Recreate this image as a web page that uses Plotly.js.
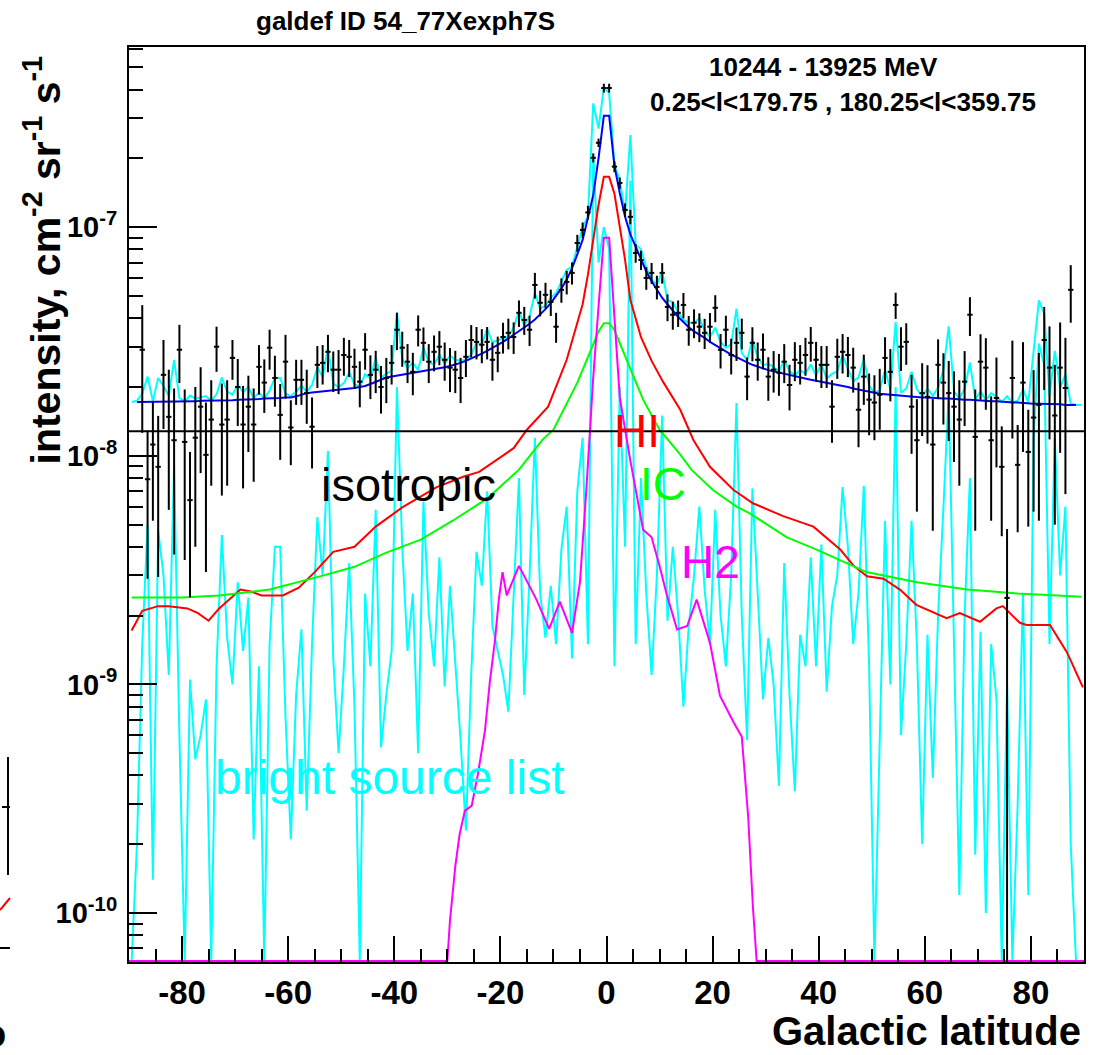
<!DOCTYPE html>
<html>
<head>
<meta charset="utf-8">
<script src="https://cdn.plot.ly/plotly-3.0.1.min.js"></script>
<style>
  html, body { margin: 0; padding: 0; background: #ffffff; }
  #chart { width: 1098px; height: 1055px; }
</style>
</head>
<body>
<div id="chart"></div>
<script>
// Latitude profile, 10244 - 13925 MeV, 1 degree bins from -90 to 90.
const binCount = 180;

// Measured intensity per bin (null where no measurement is shown)
const dataIntensity = [
  null, null, 2.91e-8, 7.9e-9, 1.12e-8, 8.95e-9, 2.26e-8, 1.48e-8, 1.17e-8, 2.91e-8,
  1.15e-8, 6.4e-9, 1.2e-8, 1.64e-8, 1.01e-8, 1.44e-8, 3.0e-8, 1.37e-8, 1.44e-8, 2.68e-8,
  2.0e-8, 1.37e-8, 1.64e-8, 1.37e-8, 2.45e-8, 2.09e-8, 2.97e-8, 2.19e-8, 1.51e-8, 2.58e-8,
  1.33e-8, 2.15e-8, 2.15e-8, 1.88e-8, 1.34e-8, 2.5e-8, 2.55e-8, 2.85e-8, 2.38e-8, 2.38e-8,
  2.76e-8, 2.71e-8, 2.45e-8, 2.11e-8, 2.91e-8, 2.26e-8, 2.38e-8, 2.0e-8, 2.19e-8, 2.55e-8,
  3.56e-8, 2.97e-8, 2.58e-8, 2.33e-8, 3.56e-8, 3.12e-8, 2.58e-8, 2.85e-8, 3.0e-8, 2.63e-8,
  2.43e-8, 2.38e-8, 2.19e-8, 2.71e-8, 3.21e-8, 3.15e-8, 3.06e-8, 3.15e-8, 2.63e-8, 2.82e-8,
  3.31e-8, 3.45e-8, 3.31e-8, 4.22e-8, 3.93e-8, 3.56e-8, 5.59e-8, 4.67e-8, 5.06e-8, 4.71e-8,
  3.67e-8, 5.32e-8, 5.76e-8, 6.31e-8, 8.53e-8, 9.73e-8, 1.16e-7, 2.01e-7, 2.34e-7, 4.06e-7,
  4.06e-7, 1.84e-7, 1.56e-7, 1.19e-7, 1.11e-7, 7.71e-8, 7.19e-8, 6.0e-8, 6.31e-8, 5.48e-8,
  6.31e-8, 4.48e-8, 4.14e-8, 4.22e-8, 4.57e-8, 3.56e-8, 3.82e-8, 3.67e-8, 3.45e-8, 3.67e-8,
  4.44e-8, 2.91e-8, 3.56e-8, 2.76e-8, 3.12e-8, 3.45e-8, 2.22e-8, 3.12e-8, 2.63e-8, 2.91e-8,
  2.22e-8, 2.38e-8, 2.31e-8, 2.58e-8, 2.04e-8, 2.63e-8, 2.55e-8, 2.76e-8, 3.12e-8, 2.63e-8,
  2.5e-8, 2.5e-8, 1.64e-8, 2.71e-8, 2.85e-8, 2.76e-8, 2.43e-8, 1.59e-8, 2.22e-8, 1.76e-8,
  1.71e-8, 1.85e-8, 2.68e-8, 2.33e-8, 4.57e-8, 3.0e-8, 3.15e-8, 1.64e-8, 1.17e-8, 1.88e-8,
  1.81e-8, 1.12e-8, 2.5e-8, 2.09e-8, 1.88e-8, 1.64e-8, 1.44e-8, 2.11e-8, 4.14e-8, 1.21e-8,
  2.58e-8, 2.43e-8, 1.17e-8, 1.79e-8, 8.95e-9, 2.39e-9, 2.19e-8, 9.13e-9, 2.09e-8, 1.04e-8,
  1.47e-8, 1.67e-8, 3.21e-8, 2.43e-8, 1.5e-8, 2.43e-8, 1.98e-8, 5.32e-8, null, null
];

// Statistical error on each measured bin
const dataError = [
  0, 0, 1.65e-8, 5e-9, 6e-9, 6e-9, 9.5e-9, 9e-9, 8e-9, 8.3e-9,
  8e-9, 4e-9, 8e-9, 8e-9, 7e-9, 7e-9, 6.7e-9, 7e-9, 7e-9, 5.3e-9,
  6.5e-9, 6.5e-9, 6e-9, 6e-9, 6e-9, 5.5e-9, 5.9e-9, 5.5e-9, 5.5e-9, 8e-9,
  4.2e-9, 4.8e-9, 4.8e-9, 5.0e-9, 4.6e-9, 5.2e-9, 5.0e-9, 5.3e-9, 4.8e-9, 5.2e-9,
  5.2e-9, 5.0e-9, 4.9e-9, 4.8e-9, 5.3e-9, 4.9e-9, 5.0e-9, 4.7e-9, 4.9e-9, 5.0e-9,
  6.6e-9, 5.2e-9, 5.0e-9, 4.9e-9, 5.5e-9, 5.2e-9, 5.0e-9, 5.1e-9, 5.1e-9, 5.0e-9,
  5.3e-9, 5.0e-9, 4.9e-9, 5.0e-9, 5.2e-9, 5.1e-9, 5.2e-9, 5.1e-9, 5.0e-9, 5.0e-9,
  5.1e-9, 5.3e-9, 5.2e-9, 5.6e-9, 5.5e-9, 5.4e-9, 7.2e-9, 6.0e-9, 6.5e-9, 6.2e-9,
  5.5e-9, 6.5e-9, 6.8e-9, 7.0e-9, 7.3e-9, 7.5e-9, 8.0e-9, 9.0e-9, 1.0e-8, 1.8e-8,
  1.8e-8, 1.0e-8, 9e-9, 8e-9, 8e-9, 7.2e-9, 7.0e-9, 6.8e-9, 6.6e-9, 6.5e-9,
  6.5e-9, 6.0e-9, 5.8e-9, 5.6e-9, 5.8e-9, 5.3e-9, 5.5e-9, 5.3e-9, 5.2e-9, 5.4e-9,
  6.0e-9, 5.0e-9, 5.4e-9, 4.9e-9, 5.2e-9, 5.3e-9, 4.7e-9, 5.3e-9, 5.0e-9, 5.2e-9,
  4.8e-9, 4.9e-9, 4.8e-9, 5.0e-9, 4.6e-9, 5.1e-9, 5.0e-9, 5.2e-9, 5.4e-9, 5.2e-9,
  5.2e-9, 5.2e-9, 5.0e-9, 5.4e-9, 5.6e-9, 5.5e-9, 5.4e-9, 5.0e-9, 5.5e-9, 5.3e-9,
  5.4e-9, 5.5e-9, 6.2e-9, 6.0e-9, 6.0e-9, 6.5e-9, 6.5e-9, 6.2e-9, 6.0e-9, 6.6e-9,
  6.8e-9, 6.5e-9, 7.3e-9, 7.2e-9, 7.2e-9, 7.0e-9, 7.0e-9, 7.6e-9, 8.0e-9, 7.4e-9,
  8.2e-9, 8.4e-9, 6.5e-9, 9.0e-9, 4.5e-9, 2.4e-9, 1.0e-8, 4.5e-9, 1.05e-8, 5.5e-9,
  9e-9, 1.15e-8, 1.27e-8, 1.25e-8, 1.0e-8, 1.4e-8, 1.3e-8, 1.5e-8, 0, 0
];

// Total diffuse model (HI + IC + H2 + isotropic) per bin
const totalModel = [
  1.72e-8, 1.72e-8, 1.72e-8, 1.72e-8, 1.72e-8, 1.72e-8, 1.72e-8, 1.72e-8, 1.72e-8, 1.73e-8,
  1.73e-8, 1.73e-8, 1.73e-8, 1.74e-8, 1.74e-8, 1.74e-8, 1.74e-8, 1.75e-8, 1.75e-8, 1.75e-8,
  1.76e-8, 1.76e-8, 1.76e-8, 1.77e-8, 1.77e-8, 1.78e-8, 1.78e-8, 1.79e-8, 1.79e-8, 1.8e-8,
  1.8e-8, 1.82e-8, 1.85e-8, 1.88e-8, 1.89e-8, 1.9e-8, 1.91e-8, 1.93e-8, 1.94e-8, 1.95e-8,
  1.96e-8, 1.97e-8, 1.98e-8, 2.0e-8, 2.02e-8, 2.06e-8, 2.1e-8, 2.15e-8, 2.2e-8, 2.22e-8,
  2.24e-8, 2.26e-8, 2.28e-8, 2.3e-8, 2.32e-8, 2.34e-8, 2.36e-8, 2.38e-8, 2.41e-8, 2.44e-8,
  2.47e-8, 2.5e-8, 2.55e-8, 2.6e-8, 2.66e-8, 2.73e-8, 2.8e-8, 2.88e-8, 2.96e-8, 3.05e-8,
  3.15e-8, 3.26e-8, 3.38e-8, 3.5e-8, 3.63e-8, 3.78e-8, 3.95e-8, 4.15e-8, 4.38e-8, 4.65e-8,
  5.0e-8, 5.4e-8, 5.9e-8, 6.6e-8, 7.6e-8, 8.8e-8, 1.1e-7, 1.38e-7, 2.0e-7, 3.07e-7,
  3.07e-7, 1.85e-7, 1.41e-7, 1.11e-7, 9.3e-8, 8.2e-8, 7.2e-8, 6.4e-8, 5.8e-8, 5.3e-8,
  4.9e-8, 4.6e-8, 4.3e-8, 4.05e-8, 3.85e-8, 3.65e-8, 3.5e-8, 3.4e-8, 3.28e-8, 3.15e-8,
  3.05e-8, 2.95e-8, 2.85e-8, 2.77e-8, 2.7e-8, 2.62e-8, 2.56e-8, 2.5e-8, 2.45e-8, 2.4e-8,
  2.37e-8, 2.34e-8, 2.31e-8, 2.28e-8, 2.25e-8, 2.22e-8, 2.2e-8, 2.17e-8, 2.15e-8, 2.13e-8,
  2.11e-8, 2.09e-8, 2.06e-8, 2.04e-8, 2.02e-8, 2.0e-8, 1.97e-8, 1.95e-8, 1.92e-8, 1.9e-8,
  1.89e-8, 1.87e-8, 1.86e-8, 1.85e-8, 1.84e-8, 1.83e-8, 1.82e-8, 1.81e-8, 1.81e-8, 1.8e-8,
  1.8e-8, 1.79e-8, 1.79e-8, 1.78e-8, 1.78e-8, 1.77e-8, 1.77e-8, 1.76e-8, 1.76e-8, 1.75e-8,
  1.74e-8, 1.74e-8, 1.73e-8, 1.73e-8, 1.72e-8, 1.72e-8, 1.71e-8, 1.71e-8, 1.7e-8, 1.7e-8,
  1.69e-8, 1.69e-8, 1.69e-8, 1.68e-8, 1.68e-8, 1.68e-8, 1.67e-8, 1.67e-8, 1.67e-8, 1.67e-8
];

// Bright source list contribution per bin (0 = no source flux)
const brightSources = [
  0, 2e-10, 1.5e-9, 5e-9, 1.4e-10, 4.7e-9, 3e-9, 1.1e-9, 9e-9, 6e-10,
  0, 1.05e-9, 4.7e-10, 6e-10, 8.6e-10, 0, 1.2e-9, 4.5e-9, 1.6e-9, 1.0e-9,
  2.8e-9, 1.4e-9, 2.4e-9, 2.1e-10, 1.2e-9, 0, 1.5e-9, 4e-9, 4e-9, 7.2e-10,
  2.1e-10, 9e-10, 1.74e-9, 2.8e-10, 1.5e-9, 5.4e-9, 3e-9, 1.05e-8, 1.3e-9, 5e-10,
  1.2e-9, 3.4e-9, 8e-10, 0, 2.5e-9, 1.2e-9, 5.8e-9, 5.3e-10, 9e-10, 1.4e-9,
  2e-8, 4e-9, 1.4e-9, 2.5e-9, 5e-10, 6.3e-9, 2.05e-9, 1.2e-9, 3.6e-9, 9.8e-10,
  2.7e-9, 1.3e-9, 5.7e-10, 2.3e-10, 1.1e-9, 3.8e-9, 2.7e-9, 7e-9, 1.8e-9, 1.4e-9,
  1.1e-9, 7.6e-10, 2.5e-9, 8e-9, 9e-10, 3e-9, 1.2e-8, 2.5e-9, 1.6e-9, 2.7e-9,
  1.5e-9, 3.9e-9, 6e-9, 1.3e-9, 7e-9, 1.2e-8, 1.5e-9, 2.1e-7, 7e-8, 1.0e-7,
  8e-8, 1.2e-9, 2e-8, 4e-9, 1.6e-7, 1.5e-9, 8e-9, 2.5e-9, 1.1e-9, 3e-9,
  1.5e-8, 1.9e-9, 4e-9, 2e-9, 8e-10, 1.8e-9, 3e-9, 6e-9, 2.6e-9, 1.5e-9,
  5.8e-9, 2e-9, 1.2e-9, 3e-9, 1.7e-8, 2e-9, 5.7e-10, 7.2e-9, 2.5e-9, 8.6e-10,
  1.6e-9, 1.0e-9, 3.6e-10, 3.4e-9, 9e-10, 3.4e-10, 1.65e-9, 1.2e-9, 3.6e-9, 1.2e-9,
  4.1e-9, 9.3e-10, 2.2e-9, 3e-9, 7.3e-9, 4e-9, 1.5e-9, 2.5e-9, 7.4e-9, 1.2e-9,
  0, 6e-10, 5.2e-9, 1e-9, 2e-8, 6e-10, 1.5e-9, 5.2e-9, 1.5e-9, 2e-10,
  1.65e-9, 3.9e-10, 2e-9, 5.9e-9, 1.9e-8, 1.5e-9, 1.2e-10, 2e-9, 8e-9, 1.8e-10,
  1.7e-9, 1e-10, 1.5e-9, 8.6e-10, 0, 1.0e-9, 0, 3e-10, 2.5e-9, 1.2e-10,
  1.2e-8, 3.1e-8, 2.5e-8, 1.5e-9, 1.2e-8, 3e-9, 6e-9, 2e-10, 0, 0
];

// HI gas component
const hiLat = [-89.5, -87.5, -84.5, -82.5, -79, -77, -75, -73, -69, -67, -65, -61, -58, -55, -51.5,
  -47.5, -43.5, -38.5, -32, -27, -24, -21.5, -17.5, -15, -11, -7.5, -5, -4.5, -3.5, -2.5, -1.5,
  -0.5, 0.5, 1.5, 2.5, 3.5, 4.5, 5.5, 6.5, 8.5, 10.7, 13.9, 16.4, 19.5, 23.9, 27.6, 33.3, 39,
  44.1, 46.6, 49.1, 52.2, 55.3, 58.4, 61.5, 64.1, 66.6, 70.4, 73.5, 74.7, 77.9, 79.2, 83.6,
  86.8, 89.8];
const hiIntensity = [1.72e-9, 2.1e-9, 2.2e-9, 2.2e-9, 2.15e-9, 2.05e-9, 1.9e-9, 2.15e-9, 2.6e-9,
  2.55e-9, 2.45e-9, 2.45e-9, 2.65e-9, 3.1e-9, 3.8e-9, 4.0e-9, 4.9e-9, 5.95e-9, 7.3e-9, 8.1e-9,
  8.5e-9, 9.3e-9, 1.08e-8, 1.3e-8, 1.64e-8, 2.63e-8, 4.1e-8, 4.6e-8, 6.2e-8, 8.8e-8, 1.25e-7,
  1.66e-7, 1.66e-7, 1.4e-7, 1.0e-7, 7.2e-8, 4.8e-8, 4.0e-8, 3.3e-8, 2.6e-8, 2.1e-8, 1.59e-8,
  1.17e-8, 8.95e-9, 7.1e-9, 6.2e-9, 5.45e-9, 4.9e-9, 3.88e-9, 3.3e-9, 2.97e-9, 2.9e-9, 2.6e-9,
  2.23e-9, 2.07e-9, 1.95e-9, 2.05e-9, 1.88e-9, 2.15e-9, 2.2e-9, 1.86e-9, 1.82e-9, 1.82e-9,
  1.38e-9, 9.7e-10];

// Inverse Compton component
const icLat = [-89.5, -80, -73, -63.5, -54, -47.5, -41.5, -35, -29, -22.5, -16.5, -12, -10, -5.5,
  -3.5, -2.5, -1.5, -0.5, 0.5, 1.5, 2.5, 3.8, 6.9, 10, 13.8, 16, 20, 24.5, 27, 34, 39.5, 49,
  58.5, 68, 77.5, 89.5];
const icIntensity = [2.4e-9, 2.4e-9, 2.45e-9, 2.6e-9, 2.97e-9, 3.27e-9, 3.77e-9, 4.3e-9, 5.2e-9,
  6.5e-9, 8.7e-9, 1.18e-8, 1.3e-8, 2.09e-8, 2.7e-8, 3.1e-8, 3.5e-8, 3.8e-8, 3.8e-8, 3.55e-8,
  3.1e-8, 2.63e-8, 1.76e-8, 1.3e-8, 1.02e-8, 8.7e-9, 7.1e-9, 6.0e-9, 5.6e-9, 4.4e-9, 3.9e-9,
  3.1e-9, 2.8e-9, 2.6e-9, 2.5e-9, 2.42e-9];

// Molecular hydrogen component (0 outside the gas layer)
const h2Lat = [-90, -30, -29.5, -29, -28.5, -27.7, -26.7, -25.4, -24.2, -22.9, -22, -21, -20.3,
  -19.6, -18.8, -16.5, -13.2, -10.8, -8.8, -6.5, -5, -3.8, -3.1, -2.5, -1.5, -0.5, 0.5, 1.5,
  2.5, 4.4, 5.7, 6.9, 8.5, 10, 11.3, 13.3, 15.2, 17, 19.5, 21.4, 24, 25.5, 26.7, 27.6, 28.3, 90];
const h2Intensity = [0, 0, 9.3e-11, 1.26e-10, 1.6e-10, 2.2e-10, 2.8e-10, 2.95e-10, 4.1e-10,
  6.3e-10, 1.02e-9, 1.57e-9, 2.35e-9, 3.1e-9, 2.45e-9, 3.3e-9, 2.35e-9, 1.75e-9, 2.3e-9,
  1.68e-9, 2.8e-9, 7.1e-9, 1.4e-8, 2.2e-8, 4.5e-8, 9e-8, 9e-8, 4e-8, 1.8e-8, 9.8e-9, 6.6e-9,
  4.75e-9, 4.4e-9, 3.3e-9, 2.5e-9, 1.74e-9, 1.8e-9, 2.35e-9, 1.52e-9, 8.9e-10, 6.8e-10,
  5.9e-10, 2.65e-10, 1.06e-10, 0, 0];

// Isotropic background level
const isotropicLevel = 1.28e-8;

// Axis ticks
const xTickVals = [-80, -60, -40, -20, 0, 20, 40, 60, 80];
const xTickText = ['-80', '-60', '-40', '-20', '0', '20', '40', '60', '80'];
const yTickVals = [1e-10, 1e-9, 1e-8, 1e-7];
const yTickText = ['10<sup>-10</sup>', '10<sup>-9</sup>', '10<sup>-8</sup>', '10<sup>-7</sup>'];

// ---- drawing ----
const yRange = [-10.214, -6.212];
const floorValue = Math.pow(10, yRange[0] + 0.004);   // zero flux is drawn on the frame floor
const atFloor = v => (v > 0 ? v : floorValue);

const latitude = [];
for (let i = 0; i < binCount; i++) latitude.push(-89.5 + i);

const xMinor = [];
for (let b = -85; b <= 85; b += 5) if (b % 20 !== 0) xMinor.push(b);
const yMinor = [];
for (let d = -11; d <= -7; d++) {
  for (let k = 2; k <= 9; k++) {
    const v = k * Math.pow(10, d);
    if (Math.log10(v) > yRange[0] && Math.log10(v) < yRange[1]) yMinor.push(v);
  }
}

const FONT = 'Liberation Sans, Arial, Helvetica, sans-serif';
const lw = 2;

const traces = [
  { // bright sources alone
    x: latitude, y: brightSources.map(atFloor),
    mode: 'lines', line: { color: '#00ffff', width: lw }, hoverinfo: 'skip'
  },
  { // total model plus bright sources
    x: latitude, y: totalModel.map((v, i) => v + brightSources[i]),
    mode: 'lines', line: { color: '#00ffff', width: lw }, hoverinfo: 'skip'
  },
  {
    x: hiLat, y: hiIntensity,
    mode: 'lines', line: { color: '#ff0000', width: lw }, hoverinfo: 'skip'
  },
  {
    x: icLat, y: icIntensity,
    mode: 'lines', line: { color: '#00ff00', width: lw }, hoverinfo: 'skip'
  },
  {
    x: h2Lat, y: h2Intensity.map(atFloor),
    mode: 'lines', line: { color: '#ff00ff', width: lw }, hoverinfo: 'skip'
  },
  {
    x: latitude.slice(1, binCount - 1), y: totalModel.slice(1, binCount - 1),
    mode: 'lines', line: { color: '#0000ff', width: lw }, hoverinfo: 'skip'
  },
  {
    x: [-90, 90], y: [isotropicLevel, isotropicLevel],
    mode: 'lines', line: { color: '#000000', width: lw }, hoverinfo: 'skip'
  },
  {
    x: latitude, y: dataIntensity,
    mode: 'markers', marker: { size: 1, color: '#000000' },
    error_x: { type: 'constant', value: 0.5, width: 0, thickness: 2, color: '#000000' },
    error_y: { type: 'data', array: dataError, symmetric: true, width: 0, thickness: 2, color: '#000000' },
    hoverinfo: 'skip'
  }
];

const W = 1098, H = 1055;
const L = 129, R = 1084, T = 47, B = 962;
const px = x => (x - L) / (R - L);
const py = y => (B - y) / (B - T);

const label = (text, x, y, color, size, extra) => Object.assign({
  text: text, xref: 'paper', yref: 'paper', x: px(x), y: py(y),
  xanchor: 'center', yanchor: 'middle', showarrow: false,
  font: { family: FONT, size: size, color: color }
}, extra || {});
const bold = (size) => ({ font: { family: FONT, size: size, color: '#000000', weight: 'bold' } });

const annotations = [
  label('galdef ID 54_77Xexph7S', 405, 21, '#000000', 26, bold(26)),
  label('10244 - 13925 MeV', 823, 67, '#000000', 26, bold(26)),
  label('0.25&lt;l&lt;179.75 , 180.25&lt;l&lt;359.75', 843, 102, '#000000', 26, bold(26)),
  label('HI', 637, 431, '#ff0000', 46),
  label('IC', 663, 484, '#00ff00', 46),
  label('H2', 710, 562, '#ff00ff', 46),
  label('isotropic', 408, 484, '#000000', 47),
  label('bright source list', 389, 777, '#00ffff', 48),
  Object.assign(label('Galactic latitude', 1083, 1031, '#000000', 40, bold(40)), { xanchor: 'right' }),
  Object.assign(label('intensity, cm<sup>-2</sup> sr<sup>-1</sup> s<sup>-1</sup>', 42, 54, '#000000', 41, bold(41)),
    { textangle: -90, yanchor: 'top' }),
  // edge of the neighbouring panel
  label('o', -6, 1034, '#000000', 38, bold(38))
];

const shapes = [
  { type: 'line', xref: 'paper', yref: 'paper', x0: px(8), x1: px(8), y0: py(757), y1: py(875),
    line: { color: '#000000', width: 2 } },
  { type: 'line', xref: 'paper', yref: 'paper', x0: px(2), x1: px(10), y0: py(807), y1: py(807),
    line: { color: '#000000', width: 2 } },
  { type: 'line', xref: 'paper', yref: 'paper', x0: px(0), x1: px(10), y0: py(910), y1: py(898),
    line: { color: '#ff0000', width: 2 } },
  { type: 'line', xref: 'paper', yref: 'paper', x0: px(0), x1: px(10), y0: py(948), y1: py(948),
    line: { color: '#000000', width: 2 } }
];

const layout = {
  width: W, height: H, autosize: false,
  margin: { l: L, r: W - R, t: T, b: H - B, pad: 0 },
  paper_bgcolor: '#ffffff', plot_bgcolor: '#ffffff',
  showlegend: false,
  xaxis: {
    range: [-90, 90], showgrid: false, zeroline: false,
    showline: true, linecolor: '#000000', linewidth: 2, mirror: true,
    ticks: 'inside', ticklen: 26, tickwidth: 2, tickcolor: '#000000',
    tickmode: 'array', tickvals: xTickVals, ticktext: xTickText,
    ticklabelstandoff: 0,
    tickfont: { family: FONT, size: 33, color: '#000000', weight: 'bold' },
    minor: { ticks: 'inside', ticklen: 13, tickwidth: 2, tickcolor: '#000000', tickmode: 'array', tickvals: xMinor, showgrid: false }
  },
  yaxis: {
    type: 'log', range: yRange, showgrid: false, zeroline: false,
    showline: true, linecolor: '#000000', linewidth: 2, mirror: true,
    ticks: 'inside', ticklen: 28, tickwidth: 2, tickcolor: '#000000',
    tickmode: 'array', tickvals: yTickVals, ticktext: yTickText,
    ticklabelstandoff: 4,
    tickfont: { family: FONT, size: 29, color: '#000000', weight: 'bold' },
    minor: { ticks: 'inside', ticklen: 14, tickwidth: 2, tickcolor: '#000000', tickmode: 'array', tickvals: yMinor, showgrid: false }
  },
  annotations: annotations,
  shapes: shapes
};

Plotly.newPlot('chart', traces, layout, { staticPlot: true, displayModeBar: false });
</script>
</body>
</html>
